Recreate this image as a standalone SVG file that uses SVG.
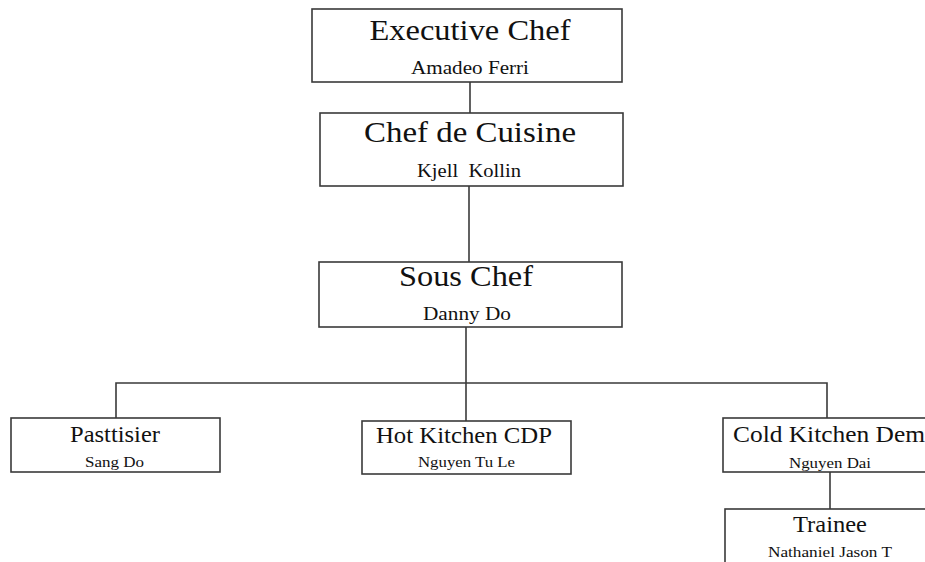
<svg xmlns="http://www.w3.org/2000/svg" width="925" height="562" viewBox="0 0 925 562">
<style>
.box{fill:#fff;stroke:#3a3a3a;stroke-width:1.6}
.ln{stroke:#3a3a3a;stroke-width:1.6;fill:none}
text{font-family:"Liberation Serif","Times New Roman",serif;fill:#111;text-anchor:middle}
.t1{font-size:29px}
.n1{font-size:18.5px}
.t2{font-size:23.5px}
.n2{font-size:15px}
</style>
<rect width="925" height="562" fill="#fff"/>
<g id="connectors">
<line class="ln" x1="470" y1="82" x2="470" y2="113"/>
<line class="ln" x1="469" y1="186" x2="469" y2="262"/>
<line class="ln" x1="466" y1="327" x2="466" y2="421"/>
<polyline class="ln" points="116,418 116,383 827,383 827,418"/>
<line class="ln" x1="830" y1="472" x2="830" y2="509"/>
</g>
<g id="executive-chef">
<rect class="box" x="312" y="9" width="310" height="73"/>
<text class="t1" x="470" y="40" textLength="201" lengthAdjust="spacingAndGlyphs">Executive Chef</text>
<text class="n1" x="470" y="74" textLength="118" lengthAdjust="spacingAndGlyphs">Amadeo Ferri</text>
</g>
<g id="chef-de-cuisine">
<rect class="box" x="320" y="113" width="303" height="73"/>
<text class="t1" x="470" y="142" textLength="212" lengthAdjust="spacingAndGlyphs">Chef de Cuisine</text>
<text class="n1" x="469" y="177" textLength="104" lengthAdjust="spacingAndGlyphs" xml:space="preserve">Kjell  Kollin</text>
</g>
<g id="sous-chef">
<rect class="box" x="319" y="262" width="303" height="65"/>
<text class="t1" x="466" y="286" textLength="134" lengthAdjust="spacingAndGlyphs">Sous Chef</text>
<text class="n1" x="467" y="320" textLength="88" lengthAdjust="spacingAndGlyphs">Danny Do</text>
</g>
<g id="pasttisier">
<rect class="box" x="11" y="418" width="209" height="54"/>
<text class="t2" x="115" y="442" textLength="90" lengthAdjust="spacingAndGlyphs">Pasttisier</text>
<text class="n2" x="114.5" y="467" textLength="59" lengthAdjust="spacingAndGlyphs">Sang Do</text>
</g>
<g id="hot-kitchen-cdp">
<rect class="box" x="362" y="421" width="209" height="53"/>
<text class="t2" x="464" y="443" textLength="176" lengthAdjust="spacingAndGlyphs">Hot Kitchen CDP</text>
<text class="n2" x="466.5" y="467" textLength="97" lengthAdjust="spacingAndGlyphs">Nguyen Tu Le</text>
</g>
<g id="cold-kitchen-demi">
<rect class="box" x="723" y="418" width="230" height="54"/>
<text class="t2" x="733" y="442" style="text-anchor:start" textLength="199" lengthAdjust="spacingAndGlyphs">Cold Kitchen Demi</text>
<text class="n2" x="830" y="468" textLength="82" lengthAdjust="spacingAndGlyphs">Nguyen Dai</text>
</g>
<g id="trainee">
<rect class="box" x="725" y="509" width="230" height="70"/>
<text class="t2" x="830" y="532" textLength="74" lengthAdjust="spacingAndGlyphs">Trainee</text>
<text class="n2" x="830" y="557" textLength="124" lengthAdjust="spacingAndGlyphs">Nathaniel Jason T</text>
</g>
</svg>
